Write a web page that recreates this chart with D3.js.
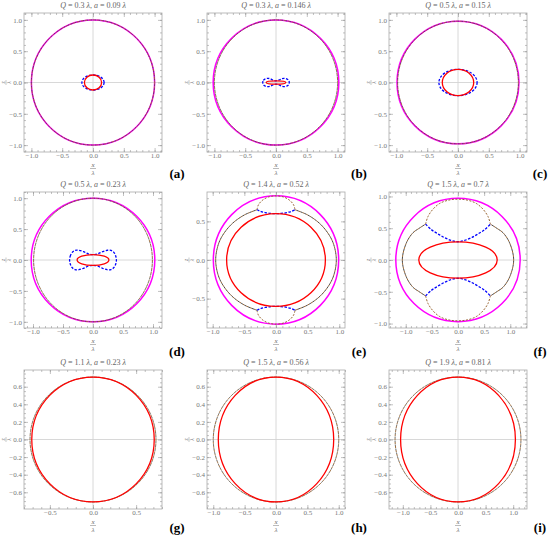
<!DOCTYPE html>
<html>
<head>
<meta charset="utf-8">
<script src="https://cdn.jsdelivr.net/npm/d3@7"></script>
<style>
body { margin: 0; background: #fff; }
svg { display: block; }
</style>
</head>
<body>
<svg width="550" height="537"></svg>
<script>
"use strict";
// panels in reading order: a b c / d e f / g h i
const panelLabels = ["(a)", "(b)", "(c)", "(d)", "(e)", "(f)", "(g)", "(h)", "(i)"];
const chargeQ = ["0.3", "0.3", "0.5", "0.5", "1.4", "1.5", "1.1", "1.5", "1.9"];
const spinA = ["0.09", "0.146", "0.15", "0.23", "0.52", "0.7", "0.23", "0.56", "0.81"];
// half widths of the plot ranges (units of λ) and major tick steps
const xExtent = [1.12, 1.12, 1.12, 1.15, 1.09, 1.32, 0.8, 1.1, 1.25];
const zExtent = [1.11, 1.11, 1.11, 1.1, 0.88, 1.07, 0.79, 0.79, 0.79];
const xStep = [0.5, 0.5, 0.5, 0.5, 0.5, 0.5, 0.5, 0.5, 0.5];
const zStep = [0.5, 0.5, 0.5, 0.5, 0.5, 0.5, 0.2, 0.2, 0.2];

// semi-axes [x, z] of the closed curves, null where a panel has none
const magentaAxes = [[1.0, 1.0], [1.02, 1.0], [0.99, 0.98], [1.03, 1.0], [0.99, 0.83], [1.19, 0.97], null, null, null];
const dashedAxes = [[1.0, 1.0], [1.0, 1.0], [0.98, 0.98], [0.99, 1.0], null, null, [0.73, 0.71], [1.0, 0.71], [1.14, 0.71]];
const blueAxes = [[0.18, 0.12], null, [0.31, 0.21], null, null, null, null, null, null];
const redAxes = [[0.14, 0.12], [0.16, 0.027], [0.255, 0.21], [0.265, 0.086], [0.78, 0.60], [0.75, 0.285], [0.71, 0.71], [0.92, 0.71], [1.04, 0.71]];

// quarter curves (x <= 0, z >= 0); mirrored into the other quadrants
const blueLobeB = [[-0.215, 0], [-0.205, 0.035], [-0.18, 0.055], [-0.14, 0.066], [-0.1, 0.062], [-0.05, 0.04], [0, 0.027]];
const blueLobeD = [[-0.39, 0], [-0.38, 0.06], [-0.35, 0.12], [-0.3, 0.155], [-0.24, 0.158], [-0.16, 0.135], [-0.08, 0.1], [0, 0.086]];
// panels e, f: side arc (equator -> cusp), outer cap and inner cap (cusp -> axis)
const sideArcE = [[-0.953, 0], [-0.92, 0.178], [-0.85, 0.31], [-0.7, 0.465], [-0.5, 0.583], [-0.3, 0.65]];
const outerCapE = [[-0.3, 0.65], [-0.28, 0.71], [-0.22, 0.77], [-0.12, 0.815], [0, 0.83]];
const innerCapE = [[-0.3, 0.65], [-0.25, 0.632], [-0.17, 0.613], [-0.08, 0.603], [0, 0.60]];
const sideArcF = [[-1.065, 0], [-0.987, 0.27], [-0.86, 0.43], [-0.75, 0.495], [-0.62, 0.565]];
const outerCapF = [[-0.62, 0.565], [-0.574, 0.684], [-0.478, 0.8], [-0.35, 0.89], [-0.19, 0.94], [0, 0.957]];
const innerCapF = [[-0.62, 0.565], [-0.51, 0.478], [-0.382, 0.41], [-0.254, 0.35], [-0.127, 0.308], [0, 0.287]];

const lobes = { 1: blueLobeB, 3: blueLobeD };
const caps = {
    4: { side: sideArcE, outer: outerCapE, inner: innerCapE },
    5: { side: sideArcF, outer: outerCapF, inner: innerCapF }
};

const serif = "'Liberation Serif', 'DejaVu Serif', serif";
const svg = d3.select("svg");
const colLeft = [24, 207, 389];
const plotW = 138;
const rowBox = [[13, 152], [192, 328], [370, 509]];
const labelX = [177, 359, 540];
const labelY = [178, 356, 532];
const brown = "#996633";

const flipX = p => [-p[0], p[1]];
const flipZ = p => [p[0], -p[1]];

function closedLoop(q) {
    const upRight = q.slice(0, -1).reverse().map(flipX);
    const lowRight = q.slice(1).map(p => [-p[0], -p[1]]);
    const lowLeft = q.slice(1, -1).reverse().map(flipZ);
    return q.concat(upRight, lowRight, lowLeft);
}
function capArc(q) { // cusp -> axis -> mirrored cusp
    return q.concat(q.slice(0, -1).reverse().map(flipX));
}
function sideArc(q) { // upper cusp -> equator -> lower cusp
    return q.slice().reverse().concat(q.slice(1).map(flipZ));
}
function stepTicks(ext, step) {
    const n = Math.floor(ext / step + 1e-9);
    return d3.range(-n, n + 1).map(k => +(k * step).toFixed(3));
}
const fmt = d3.format(".1f");

panelLabels.forEach((label, i) => {
    const col = i % 3, row = Math.floor(i / 3);
    const left = colLeft[col], right = left + plotW;
    const top = rowBox[row][0], bottom = rowBox[row][1];
    const x = d3.scaleLinear().domain([-xExtent[i], xExtent[i]]).range([left, right]);
    const z = d3.scaleLinear().domain([-zExtent[i], zExtent[i]]).range([bottom, top]);
    const g = svg.append("g");

    // axis cross lines
    g.append("line").attr("x1", x(0)).attr("x2", x(0)).attr("y1", top).attr("y2", bottom)
        .attr("stroke", "#d4d4d4").attr("stroke-width", 0.9);
    g.append("line").attr("x1", left).attr("x2", right).attr("y1", z(0)).attr("y2", z(0))
        .attr("stroke", "#d4d4d4").attr("stroke-width", 0.9);

    const line = d3.line().x(d => x(d[0])).y(d => z(d[1]));
    const ellipse = (axes, stroke, width, dash, offset) => g.append("ellipse")
        .attr("cx", x(0)).attr("cy", z(0))
        .attr("rx", x(axes[0]) - x(0)).attr("ry", z(0) - z(axes[1]))
        .attr("fill", "none").attr("stroke", stroke).attr("stroke-width", width)
        .attr("stroke-dasharray", dash).attr("stroke-dashoffset", offset || 0);
    const path = (pts, curve, stroke, width, dash, offset) => g.append("path")
        .attr("d", line.curve(curve)(pts))
        .attr("fill", "none").attr("stroke", stroke).attr("stroke-width", width)
        .attr("stroke-dasharray", dash).attr("stroke-dashoffset", offset || 0);

    if (magentaAxes[i]) ellipse(magentaAxes[i], "#ff00ff", 1.5, null);
    if (dashedAxes[i]) {
        ellipse(dashedAxes[i], brown, 1, "2,2");
        ellipse(dashedAxes[i], "#333", 0.8, "1.5,2.5", 2);
    }
    if (caps[i]) {
        const c = caps[i];
        const leftArc = sideArc(c.side), rightArc = leftArc.map(flipX);
        const topCap = capArc(c.outer), botCap = topCap.map(flipZ);
        const topIn = capArc(c.inner), botIn = topIn.map(flipZ);
        [leftArc, rightArc].forEach(a => {
            path(a, d3.curveCatmullRom, brown, 1, "2,2");
            path(a, d3.curveCatmullRom, "#333", 0.9, "2,2", 2);
        });
        [topCap, botCap].forEach(a => path(a, d3.curveCatmullRom, brown, 1, "2,1.5"));
        [topIn, botIn].forEach(a => path(a, d3.curveCatmullRom, "#0000ff", 1.3, "2.5,1.5"));
    }
    if (blueAxes[i]) ellipse(blueAxes[i], "#0000ff", 1.3, "2.5,1.5");
    if (lobes[i]) path(closedLoop(lobes[i]), d3.curveCatmullRomClosed, "#0000ff", 1.3, "2.5,1.5");
    if (redAxes[i]) ellipse(redAxes[i], "#ff0000", 1.3, null);

    // frame, ticks
    g.append("rect").attr("x", left).attr("y", top).attr("width", right - left).attr("height", bottom - top)
        .attr("fill", "none").attr("stroke", "#aaa").attr("stroke-width", 0.8);

    const xMajor = stepTicks(xExtent[i], xStep[i]);
    const zMajor = stepTicks(zExtent[i], zStep[i]);
    const xMinor = stepTicks(xExtent[i], xStep[i] === 0.5 ? 0.1 : 0.05);
    const zMinor = stepTicks(zExtent[i], zStep[i] === 0.5 ? 0.1 : 0.05);

    const axes = [
        [d3.axisBottom(x).tickValues(xMajor).tickSize(-4).tickPadding(1).tickFormat(fmt), `translate(0,${bottom})`],
        [d3.axisBottom(x).tickValues(xMinor).tickSize(-2).tickFormat(""), `translate(0,${bottom})`],
        [d3.axisTop(x).tickValues(xMajor).tickSize(-4).tickFormat(""), `translate(0,${top})`],
        [d3.axisTop(x).tickValues(xMinor).tickSize(-2).tickFormat(""), `translate(0,${top})`],
        [d3.axisLeft(z).tickValues(zMajor).tickSize(-4).tickPadding(2).tickFormat(fmt), `translate(${left},0)`],
        [d3.axisLeft(z).tickValues(zMinor).tickSize(-2).tickFormat(""), `translate(${left},0)`],
        [d3.axisRight(z).tickValues(zMajor).tickSize(-4).tickFormat(""), `translate(${right},0)`],
        [d3.axisRight(z).tickValues(zMinor).tickSize(-2).tickFormat(""), `translate(${right},0)`]
    ];
    axes.forEach(([ax, tr]) => {
        const a = g.append("g").attr("transform", tr).call(ax)
            .attr("font-size", 7).attr("font-family", serif);
        a.select(".domain").remove();
        a.selectAll("line").attr("stroke", "#999").attr("stroke-width", 0.6);
        a.selectAll("text").attr("fill", "#777");
    });

    // title
    const cx = (left + right) / 2;
    const t = g.append("text").attr("x", cx).attr("y", top - 5).attr("text-anchor", "middle")
        .attr("font-family", serif).attr("font-size", 8).attr("fill", "#666");
    t.append("tspan").attr("font-style", "italic").text("Q");
    t.append("tspan").text(` = ${chargeQ[i]} `);
    t.append("tspan").attr("font-style", "italic").text("λ");
    t.append("tspan").text(", ");
    t.append("tspan").attr("font-style", "italic").text("a");
    t.append("tspan").text(` = ${spinA[i]} `);
    t.append("tspan").attr("font-style", "italic").text("λ");

    // x / λ fraction under the axis
    const fx = g.append("g").attr("transform", `translate(${cx},${bottom + 16.5})`)
        .attr("font-family", serif).attr("font-size", 7).attr("font-style", "italic").attr("fill", "#666");
    fx.append("text").attr("text-anchor", "middle").attr("y", -1.5).text("x");
    fx.append("line").attr("x1", -3).attr("x2", 3).attr("stroke", "#777").attr("stroke-width", 0.5);
    fx.append("text").attr("text-anchor", "middle").attr("y", 6.5).text("λ");

    // z / λ fraction, rotated
    const fz = g.append("g").attr("transform", `translate(${left - 18},${(top + bottom) / 2}) rotate(-90)`)
        .attr("font-family", serif).attr("font-size", 5.5).attr("font-style", "italic").attr("fill", "#666");
    fz.append("text").attr("text-anchor", "middle").attr("y", -0.8).text("z");
    fz.append("line").attr("x1", -2.5).attr("x2", 2.5).attr("stroke", "#777").attr("stroke-width", 0.4);
    fz.append("text").attr("text-anchor", "middle").attr("y", 5).text("λ");

    svg.append("text").attr("x", labelX[col]).attr("y", labelY[row]).attr("text-anchor", "middle")
        .attr("font-family", serif).attr("font-weight", "bold").attr("font-size", 13)
        .text(label);
});
</script>
</body>
</html>
